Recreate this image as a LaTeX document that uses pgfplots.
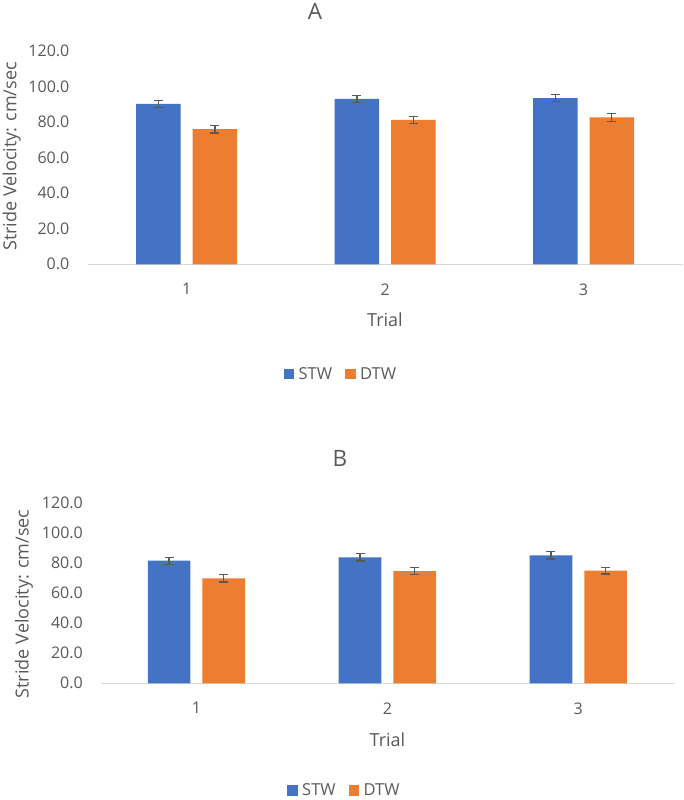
\documentclass[border=0pt]{standalone}
\usepackage{fontspec}
\setmainfont{Open Sans}
\usepackage{pgfplots}
\pgfplotsset{compat=1.18}
\definecolor{stw}{HTML}{4472C4}
\definecolor{dtw}{HTML}{ED7D31}
\definecolor{txt}{HTML}{595959}
\definecolor{axg}{HTML}{D9D9D9}
\definecolor{errg}{HTML}{595959}
\pgfplotsset{
  mystyle/.style={
    scale only axis, anchor=south west,
    ybar=12pt, ymin=0, ymax=120, xmin=0.5, xmax=3.5,
    xtick={1,2,3}, ytick={0,20,...,120},
    axis line style={draw=none}, major tick length=0pt, tick style={draw=none},
    extra y ticks={0}, extra y tick labels={},
    extra y tick style={grid=major, major grid style={draw=axg, line width=1pt}},
    /pgf/number format/assume math mode=true,
    yticklabel style={font=\fontsize{16}{19}\selectfont, text=txt, anchor=east, inner sep=0pt, xshift=-18pt,
      /pgf/number format/fixed, /pgf/number format/fixed zerofill, /pgf/number format/precision=1},
    xticklabel style={font=\fontsize{16}{19}\selectfont, text=txt, anchor=north, inner sep=0pt, yshift=-19pt},
    legend image code/.code={\fill[##1, draw=none] (0pt,-5.5pt) rectangle (10.5pt,5pt); \path (0pt,0pt) -- (13pt,0pt);},
    legend style={draw=none, fill=none, inner sep=0pt, font=\fontsize{16.5}{19}\selectfont, text=txt,
      legend columns=2, /tikz/every even column/.append style={column sep=11pt}},
    error bars/y dir=both, error bars/y explicit,
    error bars/error bar style={draw=errg, line width=1.3pt},
    error bars/error mark options={rotate=90, draw=errg, line width=1.3pt, mark size=4.5pt},
  }
}
\begin{document}
\begin{tikzpicture}
\useasboundingbox (0,0) rectangle (684pt,800pt);
% Chart A
\node[font=\fontsize{22.5}{26}\selectfont, text=txt, inner sep=0pt] at (315pt,789pt) {A};
\node[rotate=90, font=\fontsize{18}{21}\selectfont, text=txt, inner sep=0pt] at (11.7pt,643.5pt) {Stride Velocity: cm/sec};
\node[font=\fontsize{18}{21}\selectfont, text=txt, inner sep=0pt] at (385pt,480pt) {Trial};
\begin{axis}[mystyle, at={(87.5pt,535.7pt)}, width=595.2pt, height=213.3pt, bar width=44.5pt,
  legend style={at={(axis description cs:0.4256,-0.514)}, anchor=center}]
\addplot[fill=stw, draw=none] coordinates {(1,90.2) +- (0,1.9) (2,93.1) +- (0,2.0) (3,93.5) +- (0,2.0)};
\addplot[fill=dtw, draw=none] coordinates {(1,76.0) +- (0,2.1) (2,81.2) +- (0,2.1) (3,82.7) +- (0,2.2)};
\legend{STW,DTW}
\end{axis}
% Chart B
\node[font=\fontsize{22.5}{26}\selectfont, text=txt, inner sep=0pt] at (340pt,341.5pt) {B};
\node[rotate=90, font=\fontsize{18}{21}\selectfont, text=txt, inner sep=0pt] at (24pt,196pt) {Stride Velocity: cm/sec};
\node[font=\fontsize{18}{21}\selectfont, text=txt, inner sep=0pt] at (387.5pt,60pt) {Trial};
\begin{axis}[mystyle, at={(101pt,116.7pt)}, width=572.7pt, height=180pt, bar width=42.7pt,
  legend style={at={(axis description cs:0.425,-0.595)}, anchor=center}]
\addplot[fill=stw, draw=none] coordinates {(1,81.7) +- (0,2.3) (2,84.0) +- (0,2.4) (3,85.3) +- (0,2.4)};
\addplot[fill=dtw, draw=none] coordinates {(1,70.0) +- (0,2.4) (2,74.7) +- (0,2.3) (3,75.1) +- (0,2.3)};
\legend{STW,DTW}
\end{axis}
\end{tikzpicture}
\end{document}
